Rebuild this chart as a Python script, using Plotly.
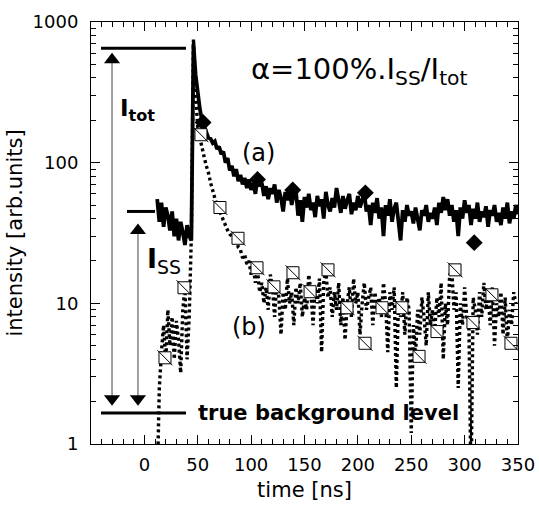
import plotly.graph_objects as go

# ---------------- data ----------------
T_STEP = 2.0
A_START = 12.0
B_START = 12.0

series_a = [
    55, 38, 52, 35, 48, 42, 33, 45, 30, 40, 28, 38, 32, 26, 36, 30, 28,          # 12..44
    700, 420, 300, 240, 200, 185, 165, 150, 148, 138, 142, 125, 130, 115, 120,  # 46..74
    100, 108, 88, 95, 80, 90, 74, 82, 70, 78, 66, 76, 64, 72, 60, 78, 68, 72,   # 76..110
    58, 68, 55, 66, 60, 70, 52, 64, 56, 45, 62, 54, 66, 50, 60,                 # 112..140
    63, 42, 54, 38, 57, 48, 60, 46, 52, 41, 58, 49, 55, 40, 62, 50, 45, 56, 48, 66,  # 142..180
    52, 44, 58, 47, 54, 60, 43, 52, 46, 58, 48, 55, 61, 45, 50, 36, 52, 44, 56, 40,  # 182..220
    48, 30, 50, 42, 55, 38, 47, 52, 40, 28, 46, 38, 50, 42, 45, 37, 48, 40, 33, 46,  # 222..260
    42, 50, 38, 44, 40, 48, 36, 52, 44, 57, 46, 55, 42, 50, 38, 46, 30, 48, 40, 54,  # 262..300
    44, 50, 36, 47, 40, 52, 38, 45, 41, 49, 35, 46, 42, 50, 38, 44, 36, 48, 40, 52,  # 302..340
    37, 45, 40, 50, 43,                                                          # 342..350
]

series_b = [
    0.5, 2.5, 4.5, 7, 3.8, 9, 5, 8, 4, 7.5, 5.5, 3.2, 9, 13, 4, 8, 30,           # 12..44
    760, 300, 180, 150, 125, 110, 95, 85, 72, 62, 56, 50, 46, 42, 38,           # 46..76
    36, 33, 31, 30, 28, 29, 25, 24, 21, 22, 19, 20, 16, 18, 14, 17, 12,         # 78..110
    14, 10, 13, 9, 16, 13, 8, 14, 11, 6, 12, 9, 15, 10, 12, 7, 13, 10, 14, 8,   # 112..150
    11, 9, 16, 12, 7, 13, 10, 15, 4.5, 14, 17, 11, 13, 8, 12, 9, 14, 7, 11, 5.5,  # 152..190
    10, 13, 8, 15, 10, 12, 6, 10, 14, 9, 11, 13, 7, 12, 9, 11, 8, 14, 10, 4.5,   # 192..230
    12, 9, 13, 2.5, 10, 8, 12, 6, 11, 9, 1.2, 7, 4.2, 9, 6, 11, 8, 5, 12, 7,     # 232..270
    9, 6.3, 11, 8, 14, 4, 10, 7, 16, 17, 9, 12, 2.5, 10, 7, 13, 8, 7.3, 0.5, 11,  # 272..310
    9, 6, 12, 8, 14, 9, 11.5, 7, 13, 5, 10, 8, 12, 6, 11, 5.2, 9, 7, 12, 10,     # 312..350
]

time_a = [A_START + T_STEP * i for i in range(len(series_a))]
time_b = [B_START + T_STEP * i for i in range(len(series_b))]

diamond_t = [55, 106, 139, 207, 309]
diamond_v = [193, 76, 64, 61, 27]

square_t = [19.3, 37.1, 53, 70.8, 87.7, 105.5, 121.4, 139.2, 155.2, 172, 189.8,
            206.7, 222.6, 241.3, 257.3, 274.1, 291, 307.8, 325.6, 343.4]
square_v = [4.1, 12.9, 158, 48, 29, 17.9, 13.1, 16.5, 12.1, 17.3, 9.3,
            5.2, 9.3, 9.3, 4.2, 6.3, 17.3, 7.3, 11.5, 5.2]

level_tot = 650
level_ss = 45
level_bg = 1.66
tot_line_t = [-40.6, 39]
ss_line_t = [-16.3, 10]
bg_line_t = [-40.6, 39]
arrow_tot_t = -30.3
arrow_ss_t = -6
arrow_tot_top = 540
arrow_ss_top = 33
arrow_bottom = 2.1

x_tickvals = [0, 50, 100, 150, 200, 250, 300, 350]
y_tickvals = [1, 10, 100, 1000]
y_ticktext = ["1", "10", "100", "1000"]
y_minor = [m * d for d in (1, 10, 100) for m in range(2, 10)]

FONT = "DejaVu Sans, Verdana, sans-serif"
BLACK = "#000000"

fig = go.Figure()

# series (a) solid
fig.add_trace(go.Scatter(x=time_a, y=series_a, mode="lines",
                         line=dict(color=BLACK, width=3.8), showlegend=False))
# series (b) dotted
fig.add_trace(go.Scatter(x=time_b, y=series_b, mode="lines",
                         line=dict(color=BLACK, width=3.4, dash="3px,3px"), showlegend=False))

# level lines
for tt, lv in [(tot_line_t, level_tot), (ss_line_t, level_ss), (bg_line_t, level_bg)]:
    fig.add_trace(go.Scatter(x=tt, y=[lv, lv], mode="lines",
                             line=dict(color=BLACK, width=3), showlegend=False))

# arrows (shafts + heads)
for at, top in [(arrow_tot_t, arrow_tot_top), (arrow_ss_t, arrow_ss_top)]:
    fig.add_trace(go.Scatter(x=[at, at], y=[top, arrow_bottom], mode="lines",
                             line=dict(color="#444444", width=1), showlegend=False))
    fig.add_trace(go.Scatter(x=[at], y=[top], mode="markers",
                             marker=dict(symbol="triangle-up", size=14, color=BLACK),
                             showlegend=False))
    fig.add_trace(go.Scatter(x=[at], y=[arrow_bottom], mode="markers",
                             marker=dict(symbol="triangle-down", size=14, color=BLACK),
                             showlegend=False))

# markers
fig.add_trace(go.Scatter(x=diamond_t, y=diamond_v, mode="markers",
                         marker=dict(symbol="diamond", size=13, color=BLACK),
                         showlegend=False))
fig.add_trace(go.Scatter(x=square_t, y=square_v, mode="markers",
                         marker=dict(symbol="square", size=12, color="white",
                                     line=dict(color=BLACK, width=1)),
                         showlegend=False))
fig.add_trace(go.Scatter(x=square_t, y=square_v, mode="markers",
                         marker=dict(symbol="line-nw", size=15, color=BLACK,
                                     line=dict(color=BLACK, width=1)),
                         showlegend=False))

ann = [
    dict(text="α=100%.I<sub>SS</sub>/I<sub>tot</sub>", x=0.37, y=0.885, xanchor="left",
         yanchor="middle", font=dict(size=29)),
    dict(text="<b>I<sub>tot</sub></b>", x=0.064, y=0.791, xanchor="left", yanchor="middle",
         font=dict(size=23)),
    dict(text="<b>I</b><sub>SS</sub>", x=0.127, y=0.434, xanchor="left", yanchor="middle",
         font=dict(size=27)),
    dict(text="(a)", x=0.393, y=0.690, xanchor="center", yanchor="middle", font=dict(size=24)),
    dict(text="(b)", x=0.370, y=0.277, xanchor="center", yanchor="middle", font=dict(size=24)),
    dict(text="<b>true background level</b>", x=0.246, y=0.0735, xanchor="left",
         yanchor="middle", font=dict(size=21)),
]
for a in ann:
    a.update(xref="paper", yref="paper", showarrow=False)
    a["font"].update(family=FONT, color=BLACK)

fig.update_layout(
    width=539, height=506,
    margin=dict(l=91, r=21, t=22, b=62),
    paper_bgcolor="white", plot_bgcolor="white",
    font=dict(family=FONT, color=BLACK, size=18),
    annotations=ann,
    hovermode=False,
)
fig.update_xaxes(
    range=[-50, 350], tickmode="array", tickvals=x_tickvals,
    showgrid=False, zeroline=False, automargin=False,
    showline=True, linecolor=BLACK, linewidth=1, mirror="allticks",
    ticks="inside", ticklen=9, tickcolor=BLACK,
    minor=dict(tickmode="linear", tick0=0, dtick=10, ticks="inside", ticklen=5,
               tickcolor=BLACK, showgrid=False),
    title=dict(text="time [ns]", font=dict(size=21), standoff=8),
    tickfont=dict(size=18),
    ticklabelstandoff=4,
)
fig.update_yaxes(
    type="log", range=[0, 3], tickvals=y_tickvals, ticktext=y_ticktext,
    showgrid=False, zeroline=False, automargin=False,
    showline=True, linecolor=BLACK, linewidth=1, mirror="allticks",
    ticks="inside", ticklen=9, tickcolor=BLACK,
    minor=dict(tickvals=y_minor, ticks="inside", ticklen=5, tickcolor=BLACK, showgrid=False),
    title=dict(text="intensity [arb.units]", font=dict(size=21), standoff=4),
    tickfont=dict(size=18),
    ticklabelstandoff=8,
)

fig.write_html("out.html", config={"displayModeBar": False},
               post_script="document.body.style.margin='0';document.body.style.overflow='hidden';")
